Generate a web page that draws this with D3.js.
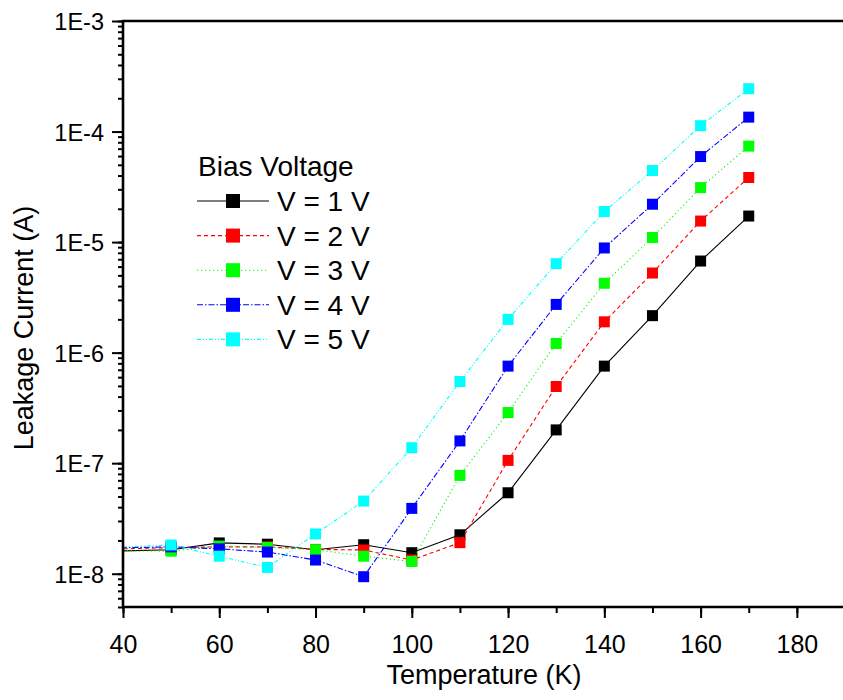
<!DOCTYPE html>
<html><head><meta charset="utf-8">
<script src="https://cdn.jsdelivr.net/npm/d3@7/dist/d3.min.js"></script>
<style>
body{margin:0;background:#fff}
text{font-family:"Liberation Sans",Arial,Helvetica,sans-serif;fill:#000}
</style>
</head><body>
<svg id="chart" width="843" height="700"></svg>
<script>
// ---- data ----
const temperatures = [30, 50, 60, 70, 80, 90, 100, 110, 120, 130, 140, 150, 160, 170];
const current_V1 = [1.57e-8, 1.65e-8, 1.90e-8, 1.85e-8, 1.65e-8, 1.83e-8, 1.55e-8, 2.25e-8, 5.4e-8, 2.0e-7, 7.55e-7, 2.16e-6, 6.74e-6, 1.72e-5];
const current_V2 = [1.64e-8, 1.72e-8, 1.75e-8, 1.75e-8, 1.66e-8, 1.64e-8, 1.33e-8, 1.91e-8, 1.06e-7, 4.94e-7, 1.90e-6, 5.25e-6, 1.55e-5, 3.84e-5];
const current_V3 = [1.62e-8, 1.60e-8, 1.78e-8, 1.73e-8, 1.65e-8, 1.44e-8, 1.29e-8, 7.75e-8, 2.87e-7, 1.21e-6, 4.24e-6, 1.10e-5, 3.11e-5, 7.38e-5];
const current_V4 = [1.69e-8, 1.75e-8, 1.68e-8, 1.57e-8, 1.33e-8, 0.94e-8, 3.9e-8, 1.59e-7, 7.55e-7, 2.73e-6, 8.85e-6, 2.20e-5, 5.94e-5, 1.35e-4];
const current_V5 = [1.68e-8, 1.82e-8, 1.44e-8, 1.14e-8, 2.29e-8, 4.54e-8, 1.38e-7, 5.48e-7, 2.00e-6, 6.38e-6, 1.89e-5, 4.44e-5, 1.13e-4, 2.44e-4];
const seriesNames = ["V = 1 V", "V = 2 V", "V = 3 V", "V = 4 V", "V = 5 V"];
const legendTitle = "Bias Voltage";
const xTickLabels = [40, 60, 80, 100, 120, 140, 160, 180];
const xMinorTicks = [40, 50, 60, 70, 80, 90, 100, 110, 120, 130, 140, 150, 160, 170, 180, 190];
const yTickValues = [1e-8, 1e-7, 1e-6, 1e-5, 1e-4, 1e-3];
const yTickLabels = ["1E-8", "1E-7", "1E-6", "1E-5", "1E-4", "1E-3"];
const xTitle = "Temperature (K)";
const yTitle = "Leakage Current (A)";

// ---- styles ----
const seriesColors = ["#000000", "#ff0000", "#00ff00", "#0000ff", "#00ffff"];
const seriesDashes = [null, "4,3", "1.2,2.8", "6,2,1.5,2", "4,2,1,2,1,2"];
const seriesValues = [current_V1, current_V2, current_V3, current_V4, current_V5];

const svg = d3.select("#chart");
const L = 123, R = 845, T = 21, B = 607;
const x = d3.scaleLinear().domain([40, 190]).range([L, R]);
const y = d3.scaleLog().domain([5e-9, 1e-3]).range([B, T]);

svg.append("defs").append("clipPath").attr("id", "plotclip")
  .append("rect").attr("x", L).attr("y", T).attr("width", R - L).attr("height", B - T);

// ---- series ----
const plot = svg.append("g").attr("clip-path", "url(#plotclip)");
const line = d3.line().x(d => x(d[0])).y(d => y(d[1]));
const ms = 11;
seriesValues.forEach((vals, i) => {
  const pts = temperatures.map((t, k) => [t, vals[k]]);
  const g = plot.append("g");
  g.append("path").datum(pts).attr("d", line)
    .attr("fill", "none").attr("stroke", seriesColors[i]).attr("stroke-width", 1.1)
    .attr("stroke-dasharray", seriesDashes[i]);
  g.selectAll("rect").data(pts).join("rect")
    .attr("x", d => x(d[0]) - ms / 2).attr("y", d => y(d[1]) - ms / 2)
    .attr("width", ms).attr("height", ms).attr("fill", seriesColors[i]);
});

// ---- axes ----
// bottom minor
svg.append("g").attr("transform", `translate(0,${B})`)
  .call(d3.axisBottom(x).tickValues(xMinorTicks).tickSize(6).tickFormat(""))
  .call(g => g.select(".domain").remove())
  .call(g => g.selectAll("line").attr("stroke-width", 2));
// bottom major
const xa = svg.append("g").attr("transform", `translate(0,${B})`)
  .call(d3.axisBottom(x).tickValues(xTickLabels).tickSize(11).tickFormat(d3.format("d")))
  .call(g => g.select(".domain").remove())
  .call(g => g.selectAll("line").attr("stroke-width", 2));
xa.attr("font-size", 25).attr("font-family", "Liberation Sans, Arial, sans-serif");
xa.selectAll("text").attr("y", 46).attr("dy", "0");

// left minor (all log ticks)
svg.append("g").attr("transform", `translate(${L},0)`)
  .call(d3.axisLeft(y).tickValues(y.ticks()).tickSize(5).tickFormat(""))
  .call(g => g.select(".domain").remove())
  .call(g => g.selectAll("line").attr("stroke-width", 2));
// left major
const ya = svg.append("g").attr("transform", `translate(${L},0)`)
  .call(d3.axisLeft(y).tickValues(yTickValues).tickSize(11).tickFormat((d, i) => yTickLabels[i]))
  .call(g => g.select(".domain").remove())
  .call(g => g.selectAll("line").attr("stroke-width", 2));
ya.attr("font-size", 23.5).attr("font-family", "Liberation Sans, Arial, sans-serif");
ya.selectAll("text").attr("x", -19).attr("dy", "0.36em");

// axis lines and top frame
svg.append("line").attr("x1", L).attr("x2", L).attr("y1", T - 1).attr("y2", B + 1).attr("stroke", "#000").attr("stroke-width", 2.6);
svg.append("line").attr("x1", L - 1).attr("x2", R).attr("y1", B).attr("y2", B).attr("stroke", "#000").attr("stroke-width", 2.6);
svg.append("line").attr("x1", L - 1).attr("x2", R).attr("y1", T).attr("y2", T).attr("stroke", "#000").attr("stroke-width", 2.4);

// titles
svg.append("text").attr("x", (L + R) / 2).attr("y", 684).attr("text-anchor", "middle")
  .attr("font-size", 27).text(xTitle);
svg.append("text").attr("transform", "translate(33,328) rotate(-90)").attr("text-anchor", "middle")
  .attr("font-size", 27).text(yTitle);

// legend
const lg = svg.append("g");
lg.append("text").attr("x", 198).attr("y", 176).attr("font-size", 28).text(legendTitle);
seriesNames.forEach((name, i) => {
  const cy = 201 + i * 34.6;
  lg.append("line").attr("x1", 197).attr("x2", 269).attr("y1", cy).attr("y2", cy)
    .attr("stroke", seriesColors[i]).attr("stroke-width", 1.1).attr("stroke-dasharray", seriesDashes[i]);
  lg.append("rect").attr("x", 233 - 7).attr("y", cy - 7).attr("width", 14).attr("height", 14)
    .attr("fill", seriesColors[i]);
  lg.append("text").attr("x", 277).attr("y", cy + 10).attr("font-size", 28).text(name);
});
</script>
</body></html>
